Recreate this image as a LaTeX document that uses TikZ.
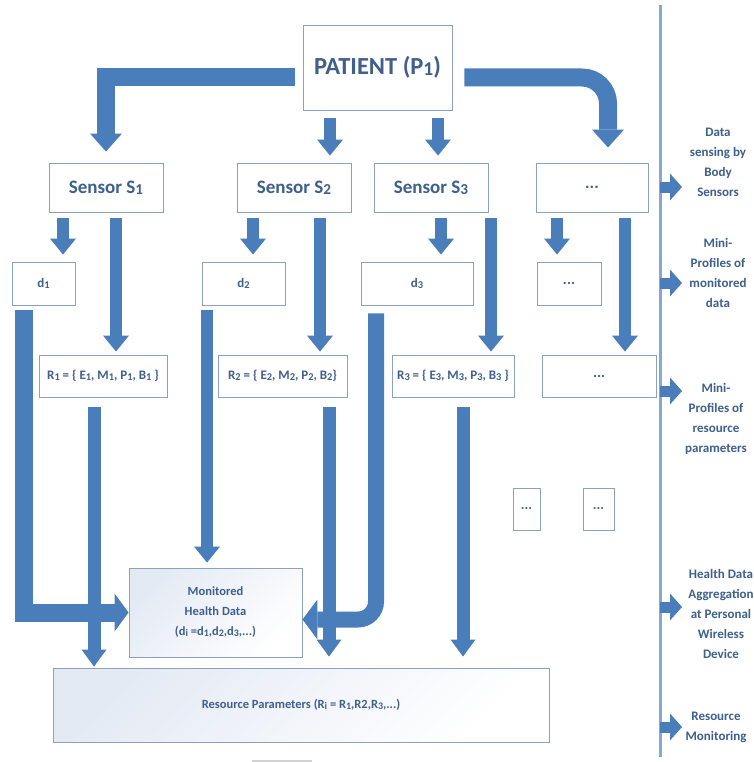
\documentclass[tikz,border=0pt]{standalone}
\usepackage{graphicx}
\usepackage{fontspec}
\setmainfont{Carlito}
\usetikzlibrary{arrows.meta, positioning, calc}
\definecolor{arrowblue}{HTML}{4A7EBA}
\definecolor{boxline}{HTML}{8AA2C0}
\definecolor{txtblue}{HTML}{3F5F8C}
\definecolor{shadeblue}{HTML}{E4EAF4}
\definecolor{railblue}{HTML}{86A9D4}
\newcommand{\ix}[1]{\raisebox{-0.1ex}{\scalebox{0.8}{#1}}}
\tikzset{
    box/.style args={#1 #2}{
        draw=boxline, line width=0.9pt, fill=white, inner sep=0pt,
        minimum width=#1, minimum height=#2, align=center
    },
    fs/.style args={#1 #2}{font=\fontsize{#1}{#2}\selectfont\bfseries},
    shadebox/.style={top color=shadeblue, bottom color=white, shading angle=45},
    blk/.style args={#1 #2 #3}{
        draw=arrowblue, line width=#1,
        -{Triangle[width=#2, length=#3, line width=0pt]}
    },
    blkS/.style={blk=12pt 26pt 16pt},
    blkR/.style={blk=13pt 25pt 17pt},
    blkL/.style={blk=18pt 32pt 18pt},
    sideA/.style={blk=11pt 27pt 12pt},
    rail/.style={draw=railblue, line width=3pt}
}
\begin{document}
\begin{tikzpicture}[x=1pt, y=-1pt]
    \useasboundingbox (0,0) rectangle (753,762);
    \fill[white] (0,0) rectangle (753,762);
    \tikzstyle{every node}=[text=txtblue];
    % boxes
    \node[box=149pt 85pt, fs=24.5 28] (patient) at (377.5,67.5) {PATIENT (P\ix{1})};
    \node[box=114pt 49pt, fs=19 22] (s1) at (106,187.5) {Sensor S\ix{1}};
    \node[box=114pt 49pt, fs=19 22] (s2) at (294,187.5) {Sensor S\ix{2}};
    \node[box=114pt 49pt, fs=19 22] (s3) at (431,187.5) {Sensor S\ix{3}};
    \node[box=112pt 49pt, fs=17 22] (s4) at (592,187.5) {...};
    \node[box=63pt 43pt, fs=13 16] (d1) at (43.5,283.5) {d\ix{1}};
    \node[box=83pt 43pt, fs=13 16] (d2) at (243.5,283.5) {d\ix{2}};
    \node[box=112pt 43pt, fs=13 16] (d3) at (417,283.5) {d\ix{3}};
    \node[box=64pt 43pt, fs=15 16] (d4) at (569,283.5) {...};
    \node[box=128pt 42pt, fs=13 16] (r1) at (103,376) {R\ix{1} = \{ E\ix{1}, M\ix{1}, P\ix{1}, B\ix{1} \}};
    \node[box=129pt 42pt, fs=13 16] (r2) at (282.5,376) {R\ix{2} = \{ E\ix{2}, M\ix{2}, P\ix{2}, B\ix{2}\}};
    \node[box=122pt 42pt, fs=13 16] (r3) at (453,376) {R\ix{3} = \{ E\ix{3}, M\ix{3}, P\ix{3}, B\ix{3} \}};
    \node[box=114pt 42pt, fs=15 16] (r4) at (599,376) {...};
    \node[box=27pt 42pt, fs=14 16] (e1) at (526.5,509) {...};
    \node[box=31pt 42pt, fs=14 16] (e2) at (598.5,509) {...};
    \node[box=173pt 89pt, shadebox, fs=12.5 20] (mon) at (215.5,612.5)
        {Monitored\\Health Data\\(d\ix{i} =d\ix{1},d\ix{2},d\ix{3},...)};
    \node[box=496pt 74pt, shadebox, fs=12.5 16] (res) at (301,705)
        {Resource Parameters (R\ix{i} = R\ix{1},R2,R\ix{3},...)};
    % patient to sensors
    \draw[blkL, shorten <=8pt, shorten >=11pt] ([yshift=-10pt]patient.west) -| (s1.north);
    \draw[blkL, rounded corners=26pt, shorten <=12pt, shorten >=15pt]
        ([yshift=-10pt]patient.east) -| ([xshift=16pt]s4.north);
    \draw[blkS, shorten <=8pt, shorten >=7pt] (patient.south -| 330,0) -- (s2.north -| 330,0);
    \draw[blkS, shorten <=8pt, shorten >=7pt] (patient.south -| 438,0) -- (s3.north -| 438,0);
    % sensors to mini profiles
    \draw[blkS, shorten <=6pt, shorten >=7pt] (s1.south -| 63,0) -- (d1.north -| 63,0);
    \draw[blkS, shorten <=6pt, shorten >=7pt] (s2.south -| 253,0) -- (d2.north -| 253,0);
    \draw[blkS, shorten <=6pt, shorten >=7pt] (s3.south -| 441,0) -- (d3.north -| 441,0);
    \draw[blkS, shorten <=6pt, shorten >=7pt] (s4.south -| 557,0) -- (d4.north -| 557,0);
    \draw[blkS, shorten <=6pt, shorten >=3pt] (s1.south -| 116,0) -- (r1.north -| 116,0);
    \draw[blkS, shorten <=6pt, shorten >=3pt] (s2.south -| 320,0) -- (r2.north -| 320,0);
    \draw[blkS, shorten <=6pt, shorten >=3pt] (s3.south -| 491,0) -- (r3.north -| 491,0);
    \draw[blkS, shorten <=6pt, shorten >=3pt] (s4.south -| 625,0) -- (r4.north -| 625,0);
    % monitored data
    \draw[blk=18pt 38pt 14pt, shorten <=5pt] (d1.south -| 24,0) |- (mon.west);
    \draw[blkS, shorten <=5pt, shorten >=5pt] (d2.south -| 207,0) -- (mon.north -| 207,0);
    \draw[blk=16pt 40pt 15pt, rounded corners=18pt, shorten <=8pt]
        (d3.south -| 376,0) |- ([yshift=-7pt]mon.east);
    % resource parameters
    \draw[blkR, shorten <=10pt, shorten >=1pt] (r1.south -| 94,0) -- (res.north -| 94,0);
    \draw[blkR, shorten <=10pt, shorten >=11pt] (r2.south -| 329,0) -- (res.north -| 329,0);
    \draw[blkR, shorten <=10pt, shorten >=11pt] (r3.south -| 463,0) -- (res.north -| 463,0);
    % right column
    \coordinate (railtop) at (660,5);
    \coordinate (railbot) at (660,757);
    \draw[rail] (railtop) -- (railbot);
    \node[fs=13 20, align=center] (lab1) at (718,162.5) {Data\\sensing by\\Body\\Sensors};
    \node[fs=13 20, align=center] (lab2) at (718,273) {Mini-\\Profiles of\\monitored\\data};
    \node[fs=13 20, align=center] (lab3) at (716,419) {Mini-\\Profiles of\\resource\\parameters};
    \node[fs=13 20, align=center] (lab4) at (721,614) {Health Data\\Aggregation\\at Personal\\Wireless\\Device};
    \node[fs=13 20, align=center] (lab5) at (716,727.5) {Resource\\Monitoring};
    \draw[sideA] (railtop |- 0,187) -- ++(22,0);
    \draw[sideA] (railtop |- 0,283) -- ++(22,0);
    \draw[sideA] (railtop |- 0,391) -- ++(22,0);
    \draw[sideA] (railtop |- 0,607) -- ++(22,0);
    \draw[sideA] (railtop |- 0,727) -- ++(22,0);
    \draw[gray!35, line width=2pt] (252,761) -- (312,761);
\end{tikzpicture}
\end{document}
